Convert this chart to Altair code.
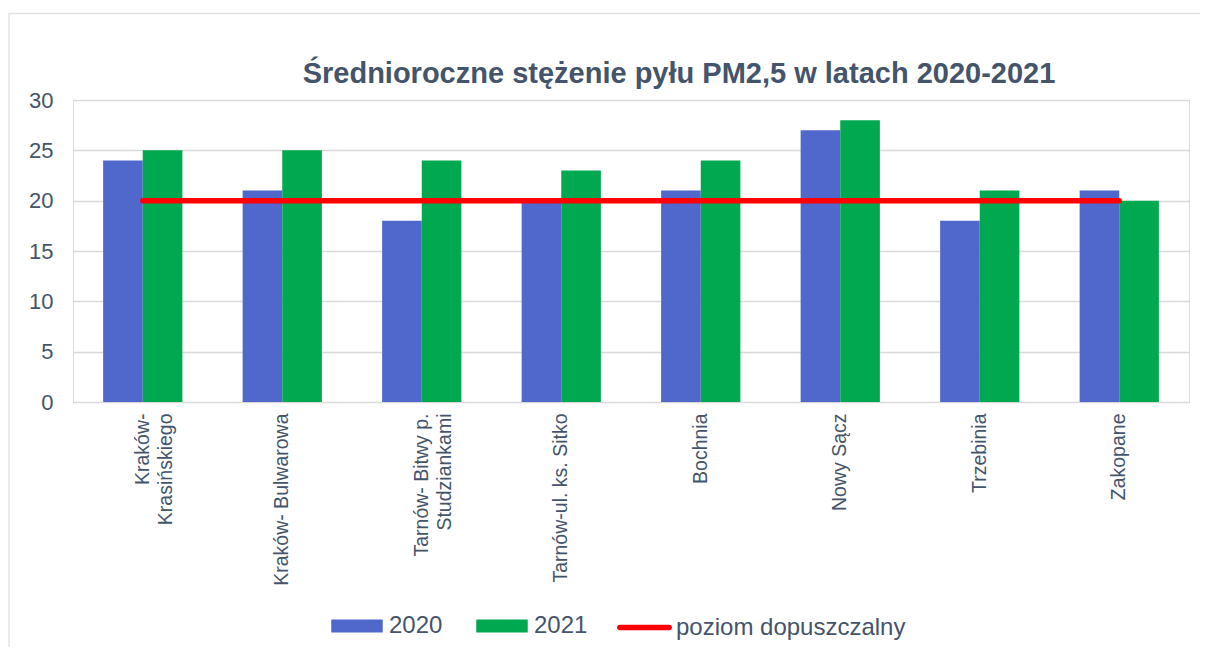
import altair as alt
import pandas as pd

categories = [
    "Kraków-\nKrasińskiego",
    "Kraków- Bulwarowa",
    "Tarnów- Bitwy p.\nStudziankami",
    "Tarnów-ul. ks. Sitko",
    "Bochnia",
    "Nowy Sącz",
    "Trzebinia",
    "Zakopane",
]
years = ["2020", "2021"]
values_2020 = [24, 21, 18, 20, 21, 27, 18, 21]
values_2021 = [25, 25, 24, 23, 24, 28, 21, 20]
limit_values = [20, 20, 20, 20, 20, 20, 20, 20]
limit_name = "poziom dopuszczalny"
y_ticks = [0, 5, 10, 15, 20, 25, 30]
title_text = "Średnioroczne stężenie pyłu PM2,5 w latach 2020-2021"

TEXT = "#44546A"
FONT = "Liberation Sans"
BLUE = "#5068CC"
GREEN = "#00A850"
RED = "#FF0000"
GRID = "#D9D9D9"

rows = []
for c, a, b in zip(categories, values_2020, values_2021):
    rows.append({"station": c, "year": "2020", "value": a})
    rows.append({"station": c, "year": "2021", "value": b})
bars_df = pd.DataFrame(rows)
line_df = pd.DataFrame({"station": categories, "value": limit_values, "series": [limit_name] * len(categories)})

x_enc = alt.X(
    "station:N",
    sort=categories,
    title=None,
    scale=alt.Scale(paddingInner=0.432, paddingOuter=0.216),
    axis=alt.Axis(
        labelAngle=-90,
        labelAlign="right",
        labelBaseline="middle",
        labelExpr="split(datum.label, '\\n')",
        labelLineHeight=23,
        labelFont=FONT,
        labelFontSize=19.5,
        labelColor=TEXT,
        labelPadding=11,
        labelLimit=400,
        ticks=False,
        domain=False,
        grid=False,
    ),
)
y_enc = alt.Y(
    "value:Q",
    title=None,
    scale=alt.Scale(domain=[0, 30], nice=False),
    axis=alt.Axis(
        values=y_ticks,
        labelFont=FONT,
        labelFontSize=22,
        labelColor=TEXT,
        labelPadding=20,
        ticks=False,
        domain=False,
        gridColor=GRID,
        gridWidth=1.5,
    ),
)

frame = alt.Chart(pd.DataFrame({"d": [0]})).mark_rect(
    fill=None, stroke="#E3E3E3", strokeWidth=1.5
).encode(
    x=alt.value(-64), x2=alt.value(1300), y=alt.value(-86.5), y2=alt.value(700)
)

rect_path = "M-1,-0.25L1,-0.25L1,0.25L-1,0.25Z"
bars = alt.Chart(bars_df).mark_bar().encode(
    x=x_enc,
    xOffset=alt.XOffset("year:N", sort=years, scale=alt.Scale(paddingInner=0, paddingOuter=0)),
    y=y_enc,
    color=alt.Color(
        "year:N",
        scale=alt.Scale(domain=years, range=[BLUE, GREEN]),
        legend=alt.Legend(
            title=None,
            orient="none",
            legendX=258,
            legendY=500,
            direction="horizontal",
            symbolType=rect_path,
            symbolSize=2650,
            symbolStrokeWidth=0,
            labelFont=FONT,
            labelFontSize=24,
            labelColor=TEXT,
            labelOffset=6,
            labelLimit=400,
            columnPadding=33,
            padding=0,
        ),
    ),
)

capsule = "M-0.9,-0.1L0.9,-0.1A0.1,0.1,0,0,1,0.9,0.1L-0.9,0.1A0.1,0.1,0,0,1,-0.9,-0.1Z"
line = alt.Chart(line_df).mark_line(strokeWidth=5.5, strokeCap="round").encode(
    x=x_enc,
    y=y_enc,
    stroke=alt.Stroke(
        "series:N",
        scale=alt.Scale(domain=[limit_name], range=[RED]),
        legend=alt.Legend(
            title=None,
            orient="none",
            legendX=544,
            legendY=500,
            direction="horizontal",
            symbolType=capsule,
            symbolSize=3025,
            symbolFillColor=RED,
            symbolStrokeWidth=0,
            labelFont=FONT,
            labelFontSize=24,
            labelColor=TEXT,
            labelOffset=4,
            labelLimit=400,
            padding=0,
        ),
    ),
)

chart = alt.layer(frame, bars, line).resolve_scale(color="independent").properties(
    width=1116,
    height=302,
    autosize=alt.AutoSizeParams(type="none"),
    padding={"left": 65, "top": 92, "right": 11, "bottom": 245},
    title=alt.TitleParams(
        text=title_text,
        font=FONT,
        fontSize=29,
        fontWeight="bold",
        color=TEXT,
        anchor="middle",
        dx=48,
        offset=-99,
        baseline="alphabetic",
    ),
).configure_view(stroke=None).configure(background="white")

chart.save("out.html", embed_options={"renderer": "svg", "actions": False})
